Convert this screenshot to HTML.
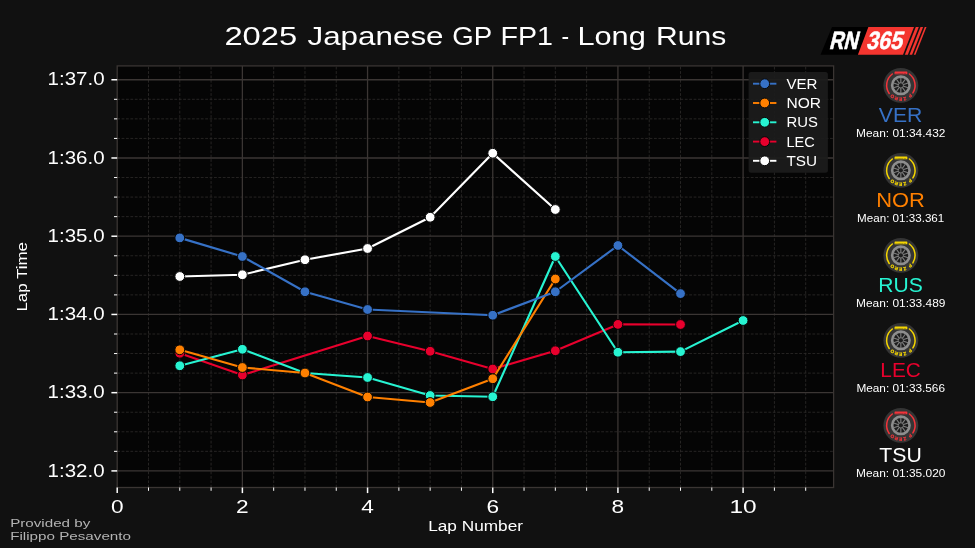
<!DOCTYPE html>
<html lang="en"><head><meta charset="utf-8"><title>2025 Japanese GP FP1 - Long Runs</title>
<style>html,body{margin:0;padding:0;background:#111111;overflow:hidden}svg{display:block}text{font-family:"Liberation Sans",sans-serif}</style></head><body>
<svg width="975" height="548" viewBox="0 0 975 548">
<rect width="975" height="548" fill="#111111"/>
<rect x="117.20" y="65.90" width="716.40" height="421.60" fill="#050505"/>
<g stroke="#2a2827" stroke-width="0.9" stroke-dasharray="2.8 1.6" fill="none">
<line x1="148.50" y1="487.50" x2="148.50" y2="65.90"/>
<line x1="179.79" y1="487.50" x2="179.79" y2="65.90"/>
<line x1="211.09" y1="487.50" x2="211.09" y2="65.90"/>
<line x1="273.68" y1="487.50" x2="273.68" y2="65.90"/>
<line x1="304.97" y1="487.50" x2="304.97" y2="65.90"/>
<line x1="336.26" y1="487.50" x2="336.26" y2="65.90"/>
<line x1="398.86" y1="487.50" x2="398.86" y2="65.90"/>
<line x1="430.15" y1="487.50" x2="430.15" y2="65.90"/>
<line x1="461.44" y1="487.50" x2="461.44" y2="65.90"/>
<line x1="524.04" y1="487.50" x2="524.04" y2="65.90"/>
<line x1="555.33" y1="487.50" x2="555.33" y2="65.90"/>
<line x1="586.62" y1="487.50" x2="586.62" y2="65.90"/>
<line x1="649.22" y1="487.50" x2="649.22" y2="65.90"/>
<line x1="680.51" y1="487.50" x2="680.51" y2="65.90"/>
<line x1="711.81" y1="487.50" x2="711.81" y2="65.90"/>
<line x1="774.40" y1="487.50" x2="774.40" y2="65.90"/>
<line x1="805.69" y1="487.50" x2="805.69" y2="65.90"/>
<line x1="117.20" y1="99.31" x2="833.60" y2="99.31"/>
<line x1="117.20" y1="118.87" x2="833.60" y2="118.87"/>
<line x1="117.20" y1="138.42" x2="833.60" y2="138.42"/>
<line x1="117.20" y1="177.54" x2="833.60" y2="177.54"/>
<line x1="117.20" y1="197.09" x2="833.60" y2="197.09"/>
<line x1="117.20" y1="216.65" x2="833.60" y2="216.65"/>
<line x1="117.20" y1="255.77" x2="833.60" y2="255.77"/>
<line x1="117.20" y1="275.33" x2="833.60" y2="275.33"/>
<line x1="117.20" y1="294.88" x2="833.60" y2="294.88"/>
<line x1="117.20" y1="334.00" x2="833.60" y2="334.00"/>
<line x1="117.20" y1="353.56" x2="833.60" y2="353.56"/>
<line x1="117.20" y1="373.11" x2="833.60" y2="373.11"/>
<line x1="117.20" y1="412.23" x2="833.60" y2="412.23"/>
<line x1="117.20" y1="431.79" x2="833.60" y2="431.79"/>
<line x1="117.20" y1="451.34" x2="833.60" y2="451.34"/>
</g>
<g stroke="#3b3634" stroke-width="1.3" fill="none">
<line x1="242.38" y1="65.90" x2="242.38" y2="487.50"/>
<line x1="367.56" y1="65.90" x2="367.56" y2="487.50"/>
<line x1="492.74" y1="65.90" x2="492.74" y2="487.50"/>
<line x1="617.92" y1="65.90" x2="617.92" y2="487.50"/>
<line x1="743.10" y1="65.90" x2="743.10" y2="487.50"/>
<line x1="117.20" y1="79.75" x2="833.60" y2="79.75"/>
<line x1="117.20" y1="157.98" x2="833.60" y2="157.98"/>
<line x1="117.20" y1="236.21" x2="833.60" y2="236.21"/>
<line x1="117.20" y1="314.44" x2="833.60" y2="314.44"/>
<line x1="117.20" y1="392.67" x2="833.60" y2="392.67"/>
<line x1="117.20" y1="470.90" x2="833.60" y2="470.90"/>
</g>
<g>
<polyline fill="none" stroke="#FFFFFF" stroke-width="2.15" stroke-linejoin="round" points="179.79,276.50 242.38,274.75 304.97,259.75 367.56,248.50 430.15,217.25 492.74,153.25 555.33,209.50"/>
<circle cx="179.79" cy="276.50" r="4.9" fill="#FFFFFF" stroke="#050505" stroke-width="1"/>
<circle cx="242.38" cy="274.75" r="4.9" fill="#FFFFFF" stroke="#050505" stroke-width="1"/>
<circle cx="304.97" cy="259.75" r="4.9" fill="#FFFFFF" stroke="#050505" stroke-width="1"/>
<circle cx="367.56" cy="248.50" r="4.9" fill="#FFFFFF" stroke="#050505" stroke-width="1"/>
<circle cx="430.15" cy="217.25" r="4.9" fill="#FFFFFF" stroke="#050505" stroke-width="1"/>
<circle cx="492.74" cy="153.25" r="4.9" fill="#FFFFFF" stroke="#050505" stroke-width="1"/>
<circle cx="555.33" cy="209.50" r="4.9" fill="#FFFFFF" stroke="#050505" stroke-width="1"/>
</g>
<g>
<polyline fill="none" stroke="#E8002D" stroke-width="2.15" stroke-linejoin="round" points="179.79,353.25 242.38,375.00 367.56,336.00 430.15,351.25 492.74,369.00 555.33,350.75 617.92,324.40 680.51,324.50"/>
<circle cx="179.79" cy="353.25" r="4.9" fill="#E8002D" stroke="#050505" stroke-width="1"/>
<circle cx="242.38" cy="375.00" r="4.9" fill="#E8002D" stroke="#050505" stroke-width="1"/>
<circle cx="367.56" cy="336.00" r="4.9" fill="#E8002D" stroke="#050505" stroke-width="1"/>
<circle cx="430.15" cy="351.25" r="4.9" fill="#E8002D" stroke="#050505" stroke-width="1"/>
<circle cx="492.74" cy="369.00" r="4.9" fill="#E8002D" stroke="#050505" stroke-width="1"/>
<circle cx="555.33" cy="350.75" r="4.9" fill="#E8002D" stroke="#050505" stroke-width="1"/>
<circle cx="617.92" cy="324.40" r="4.9" fill="#E8002D" stroke="#050505" stroke-width="1"/>
<circle cx="680.51" cy="324.50" r="4.9" fill="#E8002D" stroke="#050505" stroke-width="1"/>
</g>
<g>
<polyline fill="none" stroke="#27F4D2" stroke-width="2.15" stroke-linejoin="round" points="179.79,365.75 242.38,349.30 304.97,373.00 367.56,377.50 430.15,395.50 492.74,396.75 555.33,256.50 617.92,352.25 680.51,351.60 743.10,320.50"/>
<circle cx="179.79" cy="365.75" r="4.9" fill="#27F4D2" stroke="#050505" stroke-width="1"/>
<circle cx="242.38" cy="349.30" r="4.9" fill="#27F4D2" stroke="#050505" stroke-width="1"/>
<circle cx="304.97" cy="373.00" r="4.9" fill="#27F4D2" stroke="#050505" stroke-width="1"/>
<circle cx="367.56" cy="377.50" r="4.9" fill="#27F4D2" stroke="#050505" stroke-width="1"/>
<circle cx="430.15" cy="395.50" r="4.9" fill="#27F4D2" stroke="#050505" stroke-width="1"/>
<circle cx="492.74" cy="396.75" r="4.9" fill="#27F4D2" stroke="#050505" stroke-width="1"/>
<circle cx="555.33" cy="256.50" r="4.9" fill="#27F4D2" stroke="#050505" stroke-width="1"/>
<circle cx="617.92" cy="352.25" r="4.9" fill="#27F4D2" stroke="#050505" stroke-width="1"/>
<circle cx="680.51" cy="351.60" r="4.9" fill="#27F4D2" stroke="#050505" stroke-width="1"/>
<circle cx="743.10" cy="320.50" r="4.9" fill="#27F4D2" stroke="#050505" stroke-width="1"/>
</g>
<g>
<polyline fill="none" stroke="#FF8000" stroke-width="2.15" stroke-linejoin="round" points="179.79,349.80 242.38,367.50 304.97,373.00 367.56,397.00 430.15,402.50 492.74,378.75 555.33,279.00"/>
<circle cx="179.79" cy="349.80" r="4.9" fill="#FF8000" stroke="#050505" stroke-width="1"/>
<circle cx="242.38" cy="367.50" r="4.9" fill="#FF8000" stroke="#050505" stroke-width="1"/>
<circle cx="304.97" cy="373.00" r="4.9" fill="#FF8000" stroke="#050505" stroke-width="1"/>
<circle cx="367.56" cy="397.00" r="4.9" fill="#FF8000" stroke="#050505" stroke-width="1"/>
<circle cx="430.15" cy="402.50" r="4.9" fill="#FF8000" stroke="#050505" stroke-width="1"/>
<circle cx="492.74" cy="378.75" r="4.9" fill="#FF8000" stroke="#050505" stroke-width="1"/>
<circle cx="555.33" cy="279.00" r="4.9" fill="#FF8000" stroke="#050505" stroke-width="1"/>
</g>
<g>
<polyline fill="none" stroke="#3671C6" stroke-width="2.15" stroke-linejoin="round" points="179.79,237.90 242.38,256.50 304.97,291.75 367.56,309.50 492.74,315.25 555.33,291.75 617.92,245.50 680.51,293.60"/>
<circle cx="179.79" cy="237.90" r="4.9" fill="#3671C6" stroke="#050505" stroke-width="1"/>
<circle cx="242.38" cy="256.50" r="4.9" fill="#3671C6" stroke="#050505" stroke-width="1"/>
<circle cx="304.97" cy="291.75" r="4.9" fill="#3671C6" stroke="#050505" stroke-width="1"/>
<circle cx="367.56" cy="309.50" r="4.9" fill="#3671C6" stroke="#050505" stroke-width="1"/>
<circle cx="492.74" cy="315.25" r="4.9" fill="#3671C6" stroke="#050505" stroke-width="1"/>
<circle cx="555.33" cy="291.75" r="4.9" fill="#3671C6" stroke="#050505" stroke-width="1"/>
<circle cx="617.92" cy="245.50" r="4.9" fill="#3671C6" stroke="#050505" stroke-width="1"/>
<circle cx="680.51" cy="293.60" r="4.9" fill="#3671C6" stroke="#050505" stroke-width="1"/>
</g>
<rect x="117.20" y="65.90" width="716.40" height="421.60" fill="none" stroke="#3a3533" stroke-width="1.3"/>
<g stroke="#fff" fill="none">
<line x1="117.20" y1="487.50" x2="117.20" y2="493.10" stroke-width="1.5"/>
<line x1="242.38" y1="487.50" x2="242.38" y2="493.10" stroke-width="1.5"/>
<line x1="367.56" y1="487.50" x2="367.56" y2="493.10" stroke-width="1.5"/>
<line x1="492.74" y1="487.50" x2="492.74" y2="493.10" stroke-width="1.5"/>
<line x1="617.92" y1="487.50" x2="617.92" y2="493.10" stroke-width="1.5"/>
<line x1="743.10" y1="487.50" x2="743.10" y2="493.10" stroke-width="1.5"/>
<line x1="148.50" y1="487.50" x2="148.50" y2="490.80" stroke-width="1"/>
<line x1="179.79" y1="487.50" x2="179.79" y2="490.80" stroke-width="1"/>
<line x1="211.09" y1="487.50" x2="211.09" y2="490.80" stroke-width="1"/>
<line x1="273.68" y1="487.50" x2="273.68" y2="490.80" stroke-width="1"/>
<line x1="304.97" y1="487.50" x2="304.97" y2="490.80" stroke-width="1"/>
<line x1="336.26" y1="487.50" x2="336.26" y2="490.80" stroke-width="1"/>
<line x1="398.86" y1="487.50" x2="398.86" y2="490.80" stroke-width="1"/>
<line x1="430.15" y1="487.50" x2="430.15" y2="490.80" stroke-width="1"/>
<line x1="461.44" y1="487.50" x2="461.44" y2="490.80" stroke-width="1"/>
<line x1="524.04" y1="487.50" x2="524.04" y2="490.80" stroke-width="1"/>
<line x1="555.33" y1="487.50" x2="555.33" y2="490.80" stroke-width="1"/>
<line x1="586.62" y1="487.50" x2="586.62" y2="490.80" stroke-width="1"/>
<line x1="649.22" y1="487.50" x2="649.22" y2="490.80" stroke-width="1"/>
<line x1="680.51" y1="487.50" x2="680.51" y2="490.80" stroke-width="1"/>
<line x1="711.81" y1="487.50" x2="711.81" y2="490.80" stroke-width="1"/>
<line x1="774.40" y1="487.50" x2="774.40" y2="490.80" stroke-width="1"/>
<line x1="805.69" y1="487.50" x2="805.69" y2="490.80" stroke-width="1"/>
<line x1="111.40" y1="79.75" x2="117.20" y2="79.75" stroke-width="1.5"/>
<line x1="111.40" y1="157.98" x2="117.20" y2="157.98" stroke-width="1.5"/>
<line x1="111.40" y1="236.21" x2="117.20" y2="236.21" stroke-width="1.5"/>
<line x1="111.40" y1="314.44" x2="117.20" y2="314.44" stroke-width="1.5"/>
<line x1="111.40" y1="392.67" x2="117.20" y2="392.67" stroke-width="1.5"/>
<line x1="111.40" y1="470.90" x2="117.20" y2="470.90" stroke-width="1.5"/>
<line x1="114.00" y1="99.31" x2="117.20" y2="99.31" stroke-width="1"/>
<line x1="114.00" y1="118.87" x2="117.20" y2="118.87" stroke-width="1"/>
<line x1="114.00" y1="138.42" x2="117.20" y2="138.42" stroke-width="1"/>
<line x1="114.00" y1="177.54" x2="117.20" y2="177.54" stroke-width="1"/>
<line x1="114.00" y1="197.09" x2="117.20" y2="197.09" stroke-width="1"/>
<line x1="114.00" y1="216.65" x2="117.20" y2="216.65" stroke-width="1"/>
<line x1="114.00" y1="255.77" x2="117.20" y2="255.77" stroke-width="1"/>
<line x1="114.00" y1="275.33" x2="117.20" y2="275.33" stroke-width="1"/>
<line x1="114.00" y1="294.88" x2="117.20" y2="294.88" stroke-width="1"/>
<line x1="114.00" y1="334.00" x2="117.20" y2="334.00" stroke-width="1"/>
<line x1="114.00" y1="353.56" x2="117.20" y2="353.56" stroke-width="1"/>
<line x1="114.00" y1="373.11" x2="117.20" y2="373.11" stroke-width="1"/>
<line x1="114.00" y1="412.23" x2="117.20" y2="412.23" stroke-width="1"/>
<line x1="114.00" y1="431.79" x2="117.20" y2="431.79" stroke-width="1"/>
<line x1="114.00" y1="451.34" x2="117.20" y2="451.34" stroke-width="1"/>
</g>
<text x="104.60" y="85.35" font-size="17.70" text-anchor="end" textLength="57.00" lengthAdjust="spacingAndGlyphs" fill="#fff">1:37.0</text>
<text x="104.60" y="163.58" font-size="17.70" text-anchor="end" textLength="57.00" lengthAdjust="spacingAndGlyphs" fill="#fff">1:36.0</text>
<text x="104.60" y="241.81" font-size="17.70" text-anchor="end" textLength="57.00" lengthAdjust="spacingAndGlyphs" fill="#fff">1:35.0</text>
<text x="104.60" y="320.04" font-size="17.70" text-anchor="end" textLength="57.00" lengthAdjust="spacingAndGlyphs" fill="#fff">1:34.0</text>
<text x="104.60" y="398.27" font-size="17.70" text-anchor="end" textLength="57.00" lengthAdjust="spacingAndGlyphs" fill="#fff">1:33.0</text>
<text x="104.60" y="476.50" font-size="17.70" text-anchor="end" textLength="57.00" lengthAdjust="spacingAndGlyphs" fill="#fff">1:32.0</text>
<text x="117.20" y="512.50" font-size="17.80" text-anchor="middle" textLength="12.60" lengthAdjust="spacingAndGlyphs" fill="#fff">0</text>
<text x="242.38" y="512.50" font-size="17.80" text-anchor="middle" textLength="12.60" lengthAdjust="spacingAndGlyphs" fill="#fff">2</text>
<text x="367.56" y="512.50" font-size="17.80" text-anchor="middle" textLength="12.60" lengthAdjust="spacingAndGlyphs" fill="#fff">4</text>
<text x="492.74" y="512.50" font-size="17.80" text-anchor="middle" textLength="12.60" lengthAdjust="spacingAndGlyphs" fill="#fff">6</text>
<text x="617.92" y="512.50" font-size="17.80" text-anchor="middle" textLength="12.60" lengthAdjust="spacingAndGlyphs" fill="#fff">8</text>
<text x="743.10" y="512.50" font-size="17.80" text-anchor="middle" textLength="27.20" lengthAdjust="spacingAndGlyphs" fill="#fff">10</text>
<text x="428.20" y="531.40" font-size="13.80" textLength="94.80" lengthAdjust="spacingAndGlyphs" fill="#fff">Lap Number</text>
<g transform="translate(27.4,311.6) rotate(-90)">
<text x="0.00" y="0.00" font-size="13.90" textLength="69.60" lengthAdjust="spacingAndGlyphs" fill="#fff">Lap Time</text>
</g>
<text x="224.40" y="45.40" font-size="26.20" textLength="72.80" lengthAdjust="spacingAndGlyphs" fill="#fff">2025</text>
<text x="307.50" y="45.40" font-size="26.20" textLength="136.00" lengthAdjust="spacingAndGlyphs" fill="#fff">Japanese</text>
<text x="452.30" y="45.40" font-size="26.20" textLength="39.90" lengthAdjust="spacingAndGlyphs" fill="#fff">GP</text>
<text x="500.50" y="45.40" font-size="26.20" textLength="52.50" lengthAdjust="spacingAndGlyphs" fill="#fff">FP1</text>
<text x="561.40" y="45.40" font-size="26.20" textLength="7.60" lengthAdjust="spacingAndGlyphs" fill="#fff">-</text>
<text x="577.40" y="45.40" font-size="26.20" textLength="68.40" lengthAdjust="spacingAndGlyphs" fill="#fff">Long</text>
<text x="656.00" y="45.40" font-size="26.20" textLength="70.20" lengthAdjust="spacingAndGlyphs" fill="#fff">Runs</text>
<text x="10.20" y="527.40" font-size="11.50" textLength="80.10" lengthAdjust="spacingAndGlyphs" fill="#b4b4b4">Provided by</text>
<text x="10.20" y="540.00" font-size="11.50" textLength="120.80" lengthAdjust="spacingAndGlyphs" fill="#b4b4b4">Filippo Pesavento</text>
<rect x="748.6" y="72" width="79.3" height="100.8" rx="2.5" fill="#1c1c1c" fill-opacity="0.93"/>
<line x1="753" y1="83.70" x2="776.4" y2="83.70" stroke="#3671C6" stroke-width="1.9"/>
<circle cx="764.7" cy="83.70" r="4.9" fill="#3671C6" stroke="#070707" stroke-width="1"/>
<text x="786.50" y="88.70" font-size="13.80" textLength="31.00" lengthAdjust="spacingAndGlyphs" fill="#fff">VER</text>
<line x1="753" y1="103.00" x2="776.4" y2="103.00" stroke="#FF8000" stroke-width="1.9"/>
<circle cx="764.7" cy="103.00" r="4.9" fill="#FF8000" stroke="#070707" stroke-width="1"/>
<text x="786.50" y="108.00" font-size="13.80" textLength="34.60" lengthAdjust="spacingAndGlyphs" fill="#fff">NOR</text>
<line x1="753" y1="122.30" x2="776.4" y2="122.30" stroke="#27F4D2" stroke-width="1.9"/>
<circle cx="764.7" cy="122.30" r="4.9" fill="#27F4D2" stroke="#070707" stroke-width="1"/>
<text x="786.50" y="127.30" font-size="13.80" textLength="31.40" lengthAdjust="spacingAndGlyphs" fill="#fff">RUS</text>
<line x1="753" y1="141.60" x2="776.4" y2="141.60" stroke="#E8002D" stroke-width="1.9"/>
<circle cx="764.7" cy="141.60" r="4.9" fill="#E8002D" stroke="#070707" stroke-width="1"/>
<text x="786.50" y="146.60" font-size="13.80" textLength="28.20" lengthAdjust="spacingAndGlyphs" fill="#fff">LEC</text>
<line x1="753" y1="160.80" x2="776.4" y2="160.80" stroke="#FFFFFF" stroke-width="1.9"/>
<circle cx="764.7" cy="160.80" r="4.9" fill="#FFFFFF" stroke="#070707" stroke-width="1"/>
<text x="786.50" y="165.80" font-size="13.80" textLength="30.60" lengthAdjust="spacingAndGlyphs" fill="#fff">TSU</text>
<g>
<polygon points="832,26.9 868.6,26.9 858,54.8 820.5,54.8" fill="#000"/>
<polygon points="868.4,26.9 914,26.9 903,54.8 857.9,54.8" fill="#f4352f"/>
<polygon points="915.80,26.9 918.80,26.9 907.80,54.8 904.80,54.8" fill="#f4352f"/>
<polygon points="920.50,26.9 923.10,26.9 912.10,54.8 909.50,54.8" fill="#f4352f"/>
<polygon points="924.80,26.9 926.50,26.9 915.50,54.8 913.80,54.8" fill="#f4352f"/>
<g transform="translate(828.8,49.4) skewX(-14)"><text x="0" y="0" font-size="25" font-weight="bold" fill="#fff" textLength="28.6" stroke="#fff" stroke-width="0.6" lengthAdjust="spacingAndGlyphs">RN</text></g>
<g transform="translate(865.8,49.4) skewX(-14)"><text x="0" y="0" font-size="25" font-weight="bold" fill="#fff" textLength="36" stroke="#fff" stroke-width="0.45" lengthAdjust="spacingAndGlyphs">365</text></g>
</g>
<g transform="translate(900.85,85.35)">
<circle r="17.45" fill="#353535"/>
<path d="M-11.63 8.14 A14.20 14.20 0 0 1 -8.55 -11.34" fill="none" stroke="#f5333a" stroke-width="1.5" stroke-linecap="round"/>
<path d="M8.55 -11.34 A14.20 14.20 0 0 1 12.04 7.52" fill="none" stroke="#f5333a" stroke-width="1.5" stroke-linecap="round"/>
<rect x="-6.3" y="-13.9" width="12.8" height="2.9" rx="0.6" fill="#f5333a"/>
<text x="0" y="-11.65" font-size="2.3" font-weight="bold" text-anchor="middle" fill="#353535" fill-opacity="0.7" textLength="10.5" lengthAdjust="spacingAndGlyphs">PIRELLI</text>
<path id="pz85" d="M10.65 6.15 A12.3 12.3 0 0 1 -10.65 6.15" fill="none"/>
<text font-size="4.6" font-weight="bold" fill="#f5333a" stroke="#f5333a" stroke-width="0.25" letter-spacing="0.55"><textPath href="#pz85" startOffset="50%" text-anchor="middle">P ZERO</textPath></text>
<circle r="8.7" fill="#1d1d1d" stroke="#8e8e8e" stroke-width="2.6"/>
<line x1="2.09" y1="0.68" x2="7.23" y2="2.35" stroke="#808080" stroke-width="1.1"/>
<line x1="1.29" y1="1.78" x2="4.47" y2="6.15" stroke="#808080" stroke-width="1.1"/>
<line x1="0.00" y1="2.20" x2="0.00" y2="7.60" stroke="#808080" stroke-width="1.1"/>
<line x1="-1.29" y1="1.78" x2="-4.47" y2="6.15" stroke="#808080" stroke-width="1.1"/>
<line x1="-2.09" y1="0.68" x2="-7.23" y2="2.35" stroke="#808080" stroke-width="1.1"/>
<line x1="-2.09" y1="-0.68" x2="-7.23" y2="-2.35" stroke="#808080" stroke-width="1.1"/>
<line x1="-1.29" y1="-1.78" x2="-4.47" y2="-6.15" stroke="#808080" stroke-width="1.1"/>
<line x1="-0.00" y1="-2.20" x2="-0.00" y2="-7.60" stroke="#808080" stroke-width="1.1"/>
<line x1="1.29" y1="-1.78" x2="4.47" y2="-6.15" stroke="#808080" stroke-width="1.1"/>
<line x1="2.09" y1="-0.68" x2="7.23" y2="-2.35" stroke="#808080" stroke-width="1.1"/>
<circle r="2.6" fill="#1d1d1d" stroke="#808080" stroke-width="0.9"/>
</g>
<text x="900.60" y="122.00" font-size="19.40" text-anchor="middle" textLength="43.60" lengthAdjust="spacingAndGlyphs" fill="#3671C6">VER</text>
<text x="900.70" y="137.45" font-size="10.30" text-anchor="middle" textLength="89.40" lengthAdjust="spacingAndGlyphs" fill="#fff">Mean: 01:34.432</text>
<g transform="translate(900.85,170.35)">
<circle r="17.45" fill="#353535"/>
<path d="M-11.63 8.14 A14.20 14.20 0 0 1 -8.55 -11.34" fill="none" stroke="#f5d600" stroke-width="1.5" stroke-linecap="round"/>
<path d="M8.55 -11.34 A14.20 14.20 0 0 1 12.04 7.52" fill="none" stroke="#f5d600" stroke-width="1.5" stroke-linecap="round"/>
<rect x="-6.3" y="-13.9" width="12.8" height="2.9" rx="0.6" fill="#f5d600"/>
<text x="0" y="-11.65" font-size="2.3" font-weight="bold" text-anchor="middle" fill="#353535" fill-opacity="0.7" textLength="10.5" lengthAdjust="spacingAndGlyphs">PIRELLI</text>
<path id="pz170" d="M10.65 6.15 A12.3 12.3 0 0 1 -10.65 6.15" fill="none"/>
<text font-size="4.6" font-weight="bold" fill="#f5d600" stroke="#f5d600" stroke-width="0.25" letter-spacing="0.55"><textPath href="#pz170" startOffset="50%" text-anchor="middle">P ZERO</textPath></text>
<circle r="8.7" fill="#1d1d1d" stroke="#8e8e8e" stroke-width="2.6"/>
<line x1="2.09" y1="0.68" x2="7.23" y2="2.35" stroke="#808080" stroke-width="1.1"/>
<line x1="1.29" y1="1.78" x2="4.47" y2="6.15" stroke="#808080" stroke-width="1.1"/>
<line x1="0.00" y1="2.20" x2="0.00" y2="7.60" stroke="#808080" stroke-width="1.1"/>
<line x1="-1.29" y1="1.78" x2="-4.47" y2="6.15" stroke="#808080" stroke-width="1.1"/>
<line x1="-2.09" y1="0.68" x2="-7.23" y2="2.35" stroke="#808080" stroke-width="1.1"/>
<line x1="-2.09" y1="-0.68" x2="-7.23" y2="-2.35" stroke="#808080" stroke-width="1.1"/>
<line x1="-1.29" y1="-1.78" x2="-4.47" y2="-6.15" stroke="#808080" stroke-width="1.1"/>
<line x1="-0.00" y1="-2.20" x2="-0.00" y2="-7.60" stroke="#808080" stroke-width="1.1"/>
<line x1="1.29" y1="-1.78" x2="4.47" y2="-6.15" stroke="#808080" stroke-width="1.1"/>
<line x1="2.09" y1="-0.68" x2="7.23" y2="-2.35" stroke="#808080" stroke-width="1.1"/>
<circle r="2.6" fill="#1d1d1d" stroke="#808080" stroke-width="0.9"/>
</g>
<text x="900.60" y="207.00" font-size="19.40" text-anchor="middle" textLength="48.60" lengthAdjust="spacingAndGlyphs" fill="#FF8000">NOR</text>
<text x="900.70" y="222.45" font-size="10.30" text-anchor="middle" textLength="87.20" lengthAdjust="spacingAndGlyphs" fill="#fff">Mean: 01:33.361</text>
<g transform="translate(900.85,255.35)">
<circle r="17.45" fill="#353535"/>
<path d="M-11.63 8.14 A14.20 14.20 0 0 1 -8.55 -11.34" fill="none" stroke="#f5d600" stroke-width="1.5" stroke-linecap="round"/>
<path d="M8.55 -11.34 A14.20 14.20 0 0 1 12.04 7.52" fill="none" stroke="#f5d600" stroke-width="1.5" stroke-linecap="round"/>
<rect x="-6.3" y="-13.9" width="12.8" height="2.9" rx="0.6" fill="#f5d600"/>
<text x="0" y="-11.65" font-size="2.3" font-weight="bold" text-anchor="middle" fill="#353535" fill-opacity="0.7" textLength="10.5" lengthAdjust="spacingAndGlyphs">PIRELLI</text>
<path id="pz255" d="M10.65 6.15 A12.3 12.3 0 0 1 -10.65 6.15" fill="none"/>
<text font-size="4.6" font-weight="bold" fill="#f5d600" stroke="#f5d600" stroke-width="0.25" letter-spacing="0.55"><textPath href="#pz255" startOffset="50%" text-anchor="middle">P ZERO</textPath></text>
<circle r="8.7" fill="#1d1d1d" stroke="#8e8e8e" stroke-width="2.6"/>
<line x1="2.09" y1="0.68" x2="7.23" y2="2.35" stroke="#808080" stroke-width="1.1"/>
<line x1="1.29" y1="1.78" x2="4.47" y2="6.15" stroke="#808080" stroke-width="1.1"/>
<line x1="0.00" y1="2.20" x2="0.00" y2="7.60" stroke="#808080" stroke-width="1.1"/>
<line x1="-1.29" y1="1.78" x2="-4.47" y2="6.15" stroke="#808080" stroke-width="1.1"/>
<line x1="-2.09" y1="0.68" x2="-7.23" y2="2.35" stroke="#808080" stroke-width="1.1"/>
<line x1="-2.09" y1="-0.68" x2="-7.23" y2="-2.35" stroke="#808080" stroke-width="1.1"/>
<line x1="-1.29" y1="-1.78" x2="-4.47" y2="-6.15" stroke="#808080" stroke-width="1.1"/>
<line x1="-0.00" y1="-2.20" x2="-0.00" y2="-7.60" stroke="#808080" stroke-width="1.1"/>
<line x1="1.29" y1="-1.78" x2="4.47" y2="-6.15" stroke="#808080" stroke-width="1.1"/>
<line x1="2.09" y1="-0.68" x2="7.23" y2="-2.35" stroke="#808080" stroke-width="1.1"/>
<circle r="2.6" fill="#1d1d1d" stroke="#808080" stroke-width="0.9"/>
</g>
<text x="900.60" y="292.00" font-size="19.40" text-anchor="middle" textLength="44.50" lengthAdjust="spacingAndGlyphs" fill="#27F4D2">RUS</text>
<text x="900.70" y="307.45" font-size="10.30" text-anchor="middle" textLength="89.40" lengthAdjust="spacingAndGlyphs" fill="#fff">Mean: 01:33.489</text>
<g transform="translate(900.85,340.35)">
<circle r="17.45" fill="#353535"/>
<path d="M-11.63 8.14 A14.20 14.20 0 0 1 -8.55 -11.34" fill="none" stroke="#f5d600" stroke-width="1.5" stroke-linecap="round"/>
<path d="M8.55 -11.34 A14.20 14.20 0 0 1 12.04 7.52" fill="none" stroke="#f5d600" stroke-width="1.5" stroke-linecap="round"/>
<rect x="-6.3" y="-13.9" width="12.8" height="2.9" rx="0.6" fill="#f5d600"/>
<text x="0" y="-11.65" font-size="2.3" font-weight="bold" text-anchor="middle" fill="#353535" fill-opacity="0.7" textLength="10.5" lengthAdjust="spacingAndGlyphs">PIRELLI</text>
<path id="pz340" d="M10.65 6.15 A12.3 12.3 0 0 1 -10.65 6.15" fill="none"/>
<text font-size="4.6" font-weight="bold" fill="#f5d600" stroke="#f5d600" stroke-width="0.25" letter-spacing="0.55"><textPath href="#pz340" startOffset="50%" text-anchor="middle">P ZERO</textPath></text>
<circle r="8.7" fill="#1d1d1d" stroke="#8e8e8e" stroke-width="2.6"/>
<line x1="2.09" y1="0.68" x2="7.23" y2="2.35" stroke="#808080" stroke-width="1.1"/>
<line x1="1.29" y1="1.78" x2="4.47" y2="6.15" stroke="#808080" stroke-width="1.1"/>
<line x1="0.00" y1="2.20" x2="0.00" y2="7.60" stroke="#808080" stroke-width="1.1"/>
<line x1="-1.29" y1="1.78" x2="-4.47" y2="6.15" stroke="#808080" stroke-width="1.1"/>
<line x1="-2.09" y1="0.68" x2="-7.23" y2="2.35" stroke="#808080" stroke-width="1.1"/>
<line x1="-2.09" y1="-0.68" x2="-7.23" y2="-2.35" stroke="#808080" stroke-width="1.1"/>
<line x1="-1.29" y1="-1.78" x2="-4.47" y2="-6.15" stroke="#808080" stroke-width="1.1"/>
<line x1="-0.00" y1="-2.20" x2="-0.00" y2="-7.60" stroke="#808080" stroke-width="1.1"/>
<line x1="1.29" y1="-1.78" x2="4.47" y2="-6.15" stroke="#808080" stroke-width="1.1"/>
<line x1="2.09" y1="-0.68" x2="7.23" y2="-2.35" stroke="#808080" stroke-width="1.1"/>
<circle r="2.6" fill="#1d1d1d" stroke="#808080" stroke-width="0.9"/>
</g>
<text x="900.60" y="377.00" font-size="19.40" text-anchor="middle" textLength="40.50" lengthAdjust="spacingAndGlyphs" fill="#E8002D">LEC</text>
<text x="900.70" y="392.45" font-size="10.30" text-anchor="middle" textLength="88.60" lengthAdjust="spacingAndGlyphs" fill="#fff">Mean: 01:33.566</text>
<g transform="translate(900.85,425.35)">
<circle r="17.45" fill="#353535"/>
<path d="M-11.63 8.14 A14.20 14.20 0 0 1 -8.55 -11.34" fill="none" stroke="#f5333a" stroke-width="1.5" stroke-linecap="round"/>
<path d="M8.55 -11.34 A14.20 14.20 0 0 1 12.04 7.52" fill="none" stroke="#f5333a" stroke-width="1.5" stroke-linecap="round"/>
<rect x="-6.3" y="-13.9" width="12.8" height="2.9" rx="0.6" fill="#f5333a"/>
<text x="0" y="-11.65" font-size="2.3" font-weight="bold" text-anchor="middle" fill="#353535" fill-opacity="0.7" textLength="10.5" lengthAdjust="spacingAndGlyphs">PIRELLI</text>
<path id="pz425" d="M10.65 6.15 A12.3 12.3 0 0 1 -10.65 6.15" fill="none"/>
<text font-size="4.6" font-weight="bold" fill="#f5333a" stroke="#f5333a" stroke-width="0.25" letter-spacing="0.55"><textPath href="#pz425" startOffset="50%" text-anchor="middle">P ZERO</textPath></text>
<circle r="8.7" fill="#1d1d1d" stroke="#8e8e8e" stroke-width="2.6"/>
<line x1="2.09" y1="0.68" x2="7.23" y2="2.35" stroke="#808080" stroke-width="1.1"/>
<line x1="1.29" y1="1.78" x2="4.47" y2="6.15" stroke="#808080" stroke-width="1.1"/>
<line x1="0.00" y1="2.20" x2="0.00" y2="7.60" stroke="#808080" stroke-width="1.1"/>
<line x1="-1.29" y1="1.78" x2="-4.47" y2="6.15" stroke="#808080" stroke-width="1.1"/>
<line x1="-2.09" y1="0.68" x2="-7.23" y2="2.35" stroke="#808080" stroke-width="1.1"/>
<line x1="-2.09" y1="-0.68" x2="-7.23" y2="-2.35" stroke="#808080" stroke-width="1.1"/>
<line x1="-1.29" y1="-1.78" x2="-4.47" y2="-6.15" stroke="#808080" stroke-width="1.1"/>
<line x1="-0.00" y1="-2.20" x2="-0.00" y2="-7.60" stroke="#808080" stroke-width="1.1"/>
<line x1="1.29" y1="-1.78" x2="4.47" y2="-6.15" stroke="#808080" stroke-width="1.1"/>
<line x1="2.09" y1="-0.68" x2="7.23" y2="-2.35" stroke="#808080" stroke-width="1.1"/>
<circle r="2.6" fill="#1d1d1d" stroke="#808080" stroke-width="0.9"/>
</g>
<text x="900.60" y="462.00" font-size="19.40" text-anchor="middle" textLength="42.50" lengthAdjust="spacingAndGlyphs" fill="#FFFFFF">TSU</text>
<text x="900.70" y="477.45" font-size="10.30" text-anchor="middle" textLength="89.40" lengthAdjust="spacingAndGlyphs" fill="#fff">Mean: 01:35.020</text>
</svg></body></html>
